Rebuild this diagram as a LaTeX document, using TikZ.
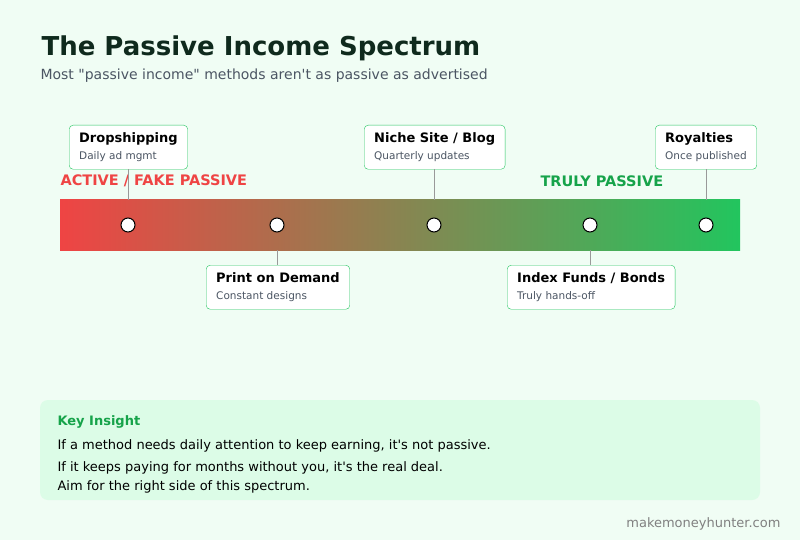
\documentclass[tikz,border=0pt]{standalone}
\usepackage{fontspec}
\setmainfont{DejaVu Sans}
\usetikzlibrary{positioning}
\definecolor{bgc}{HTML}{F0FDF4}
\definecolor{redc}{HTML}{EF4444}
\definecolor{greenc}{HTML}{22C55E}
\definecolor{darkgreen}{HTML}{16A34A}
\definecolor{titlec}{HTML}{0F2A1D}
\definecolor{subc}{HTML}{4B5563}
\definecolor{insightc}{HTML}{DCFCE7}
\tikzset{
  dot/.style={circle, draw=black, fill=white, line width=1pt, minimum size=14pt, inner sep=0pt},
  tag/.style={draw=greenc, fill=white, rounded corners=4pt, align=left, anchor=north west,
    inner xsep=10pt, inner ysep=7.5pt, text=black, font=\fontsize{13}{15}\selectfont\bfseries},
  stem/.style={draw=gray!80, line width=0.6pt},
  body/.style={anchor=west, font=\fontsize{13}{15}\selectfont, text=black}
}
\newcommand{\tagtext}[2]{#1\\[2pt]{\fontsize{10.5}{12}\selectfont\mdseries\color{subc}#2}}
\begin{document}
\begin{tikzpicture}[x=1pt, y=-1pt]
  \fill[bgc] (0,0) rectangle (800,540);
  \useasboundingbox (0,0) rectangle (800,540);

  % title
  \node[anchor=west, font=\fontsize{26}{30}\selectfont\bfseries, text=titlec] (title) at (38,48) {The Passive Income Spectrum};
  \node[anchor=west, font=\fontsize{14}{16}\selectfont, text=subc] (subtitle) at (37,76) {Most \textquotedbl passive income\textquotedbl{} methods aren\textquotesingle t as passive as advertised};

  % spectrum bar
  \shade[left color=redc, right color=greenc] (60,200) rectangle (740,250);
  \node[anchor=west, font=\fontsize{14.5}{16}\selectfont\bfseries, text=redc] (active) at (57,181) {ACTIVE / FAKE PASSIVE};
  \node[anchor=west, font=\fontsize{14.5}{16}\selectfont\bfseries, text=darkgreen] (truly) at (537,181) {TRULY PASSIVE};

  \foreach \n/\x in {d1/128, d2/277, d3/434, d4/590, d5/706}
    \node[dot] (\n) at (\x,225) {};
  \coordinate (b2) at (277,250);
  \coordinate (b4) at (590,250);

  % labels
  \node[tag] (drop) at (69,125) {\tagtext{Dropshipping}{Daily ad mgmt}};
  \node[tag] (print) at (206,265) {\tagtext{Print on Demand}{Constant designs}};
  \node[tag] (niche) at (364,125) {\tagtext{Niche Site / Blog}{Quarterly updates}};
  \node[tag] (index) at (507,265) {\tagtext{Index Funds / Bonds}{Truly hands-off}};
  \node[tag] (roy) at (655,125) {\tagtext{Royalties}{Once published}};

  \draw[stem] (drop.south -| d1) -- (d1.north |- 0,200);
  \draw[stem] (niche.south -| d3) -- (d3.north |- 0,200);
  \draw[stem] (roy.south -| d5) -- (d5.north |- 0,200);
  \draw[stem] (b2) -- (print.north -| b2);
  \draw[stem] (b4) -- (index.north -| b4);

  % insight box
  \fill[insightc, rounded corners=8pt] (40,400) rectangle (760,500);
  \node[anchor=west, font=\fontsize{13}{15}\selectfont\bfseries, text=darkgreen] (key) at (54,422) {Key Insight};
  \node[body] (l1) at (54,446) {If a method needs daily attention to keep earning, it\textquotesingle s not passive.};
  \node[body] (l2) at (54,468) {If it keeps paying for months without you, it\textquotesingle s the real deal.};
  \node[body] (l3) at (54,487) {Aim for the right side of this spectrum.};

  \node[anchor=east, font=\fontsize{13}{15}\selectfont, text=gray] (foot) at (784,524) {makemoneyhunter.com};
\end{tikzpicture}
\end{document}
